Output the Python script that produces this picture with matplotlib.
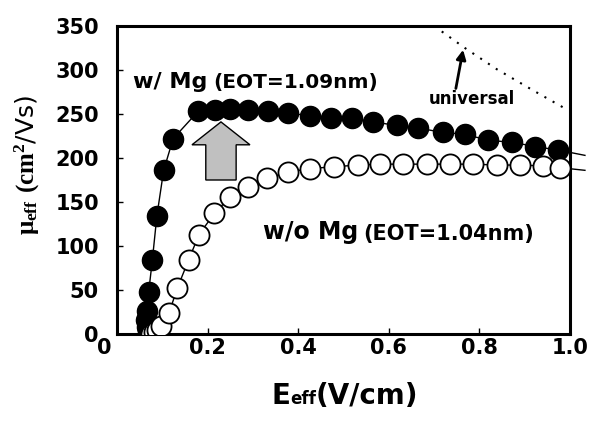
import numpy as np
import matplotlib
matplotlib.use("Agg")
import matplotlib.pyplot as plt
from matplotlib.offsetbox import TextArea, HPacker, AnnotationBbox
from matplotlib.transforms import ScaledTranslation

plt.rcParams["font.family"] = "DejaVu Sans"
plt.rcParams["font.weight"] = "bold"
plt.rcParams["mathtext.fontset"] = "custom"
plt.rcParams["mathtext.rm"] = "Liberation Serif:bold"
plt.rcParams["mathtext.it"] = "Liberation Serif:bold"
plt.rcParams["mathtext.bf"] = "Liberation Serif:bold"

# w/ Mg (filled circles)
e_mg = [0.072, 0.068, 0.066, 0.065, 0.066, 0.070, 0.078, 0.088, 0.103, 0.124,
        0.179, 0.216, 0.249, 0.290, 0.334, 0.378, 0.426, 0.472, 0.518, 0.566,
        0.617, 0.665, 0.720, 0.768, 0.820, 0.871, 0.923, 0.974]
mu_mg = [0, 3, 8, 16, 26, 48, 84, 134, 186, 222,
         253, 254, 256, 255, 253, 251, 248, 246, 245, 241,
         237, 234, 229, 227, 220, 218, 213, 209]

# w/o Mg (open circles)
e_nomg = [0.076, 0.082, 0.088, 0.097, 0.115, 0.133, 0.158, 0.181, 0.215, 0.250,
          0.289, 0.331, 0.378, 0.426, 0.478, 0.532, 0.581, 0.631, 0.684, 0.735,
          0.786, 0.839, 0.889, 0.940, 0.978]
mu_nomg = [0, 2, 4, 9, 24, 52, 84, 113, 137, 156,
           167, 177, 184, 188, 190, 192, 193, 193, 193, 193,
           193, 192, 192, 191, 189]

# curves continue just past the right edge of the frame
e_next = 1.033
mu_mg_next = 203
mu_nomg_next = 186

# universal mobility curve
e_univ = [0.700, 0.768, 0.838, 0.918, 0.990]
mu_univ = [350, 325, 301, 277, 256]

xticks = [0, 0.2, 0.4, 0.6, 0.8, 1.0]
xtick_labels = ["0", "0.2", "0.4", "0.6", "0.8", "1.0"]
yticks = [0, 50, 100, 150, 200, 250, 300, 350]

fig = plt.figure(figsize=(5.94, 4.21), dpi=100)
ax = fig.add_axes([117 / 594, 87 / 421, 453 / 594, 308 / 421])

# connecting lines (allowed to run past the frame on the right)
ax.plot(e_mg + [e_next], mu_mg + [mu_mg_next], color="black", lw=1.0,
        clip_on=False, zorder=2)
ax.plot(e_nomg + [e_next], mu_nomg + [mu_nomg_next], color="black", lw=1.0,
        clip_on=False, zorder=2)

ax.plot(e_mg, mu_mg, "o", ms=14.5, mfc="black", mec="black", mew=1.0, zorder=3)
ax.plot(e_nomg, mu_nomg, "o", ms=14.5, mfc="white", mec="black", mew=1.3, zorder=4)

ax.plot(e_univ, mu_univ, color="black", lw=1.5, ls=(0, (1, 3.5)), zorder=2)

# grey block arrow
ax.arrow(0.2295, 175, 0, 66, width=0.067, head_width=0.128, head_length=26,
         length_includes_head=True, fc="#c0c0c0", ec="black", lw=1.0, zorder=5)

ax.annotate("", xy=(0.764, 323), xytext=(0.748, 279),
            arrowprops=dict(arrowstyle="-|>", lw=2, color="black",
                            mutation_scale=14, shrinkA=0, shrinkB=0))

t1 = ax.text(0.035, 280, "w/ Mg", fontsize=16, va="baseline")
ax.annotate("(EOT=1.09nm)", xy=(1, 0), xycoords=t1, xytext=(4, 0),
            textcoords="offset points", fontsize=14.5, va="bottom")
ax.text(0.689, 261, "universal", fontsize=12, va="baseline")
t2 = ax.text(0.322, 108, "w/o Mg", fontsize=17, va="baseline")
ax.annotate("(EOT=1.04nm)", xy=(1, 0), xycoords=t2, xytext=(4, 0),
            textcoords="offset points", fontsize=15, va="bottom")

ax.set_xlim(0, 1.0)
ax.set_ylim(0, 350)
ax.set_xticks(xticks)
ax.set_xticklabels(xtick_labels)
ax.set_yticks(yticks)
ax.tick_params(direction="in", length=4, width=1, labelsize=15, top=False, right=False)
ax.tick_params(axis="y", pad=13)
ax.tick_params(axis="x", pad=3)
for sp in ax.spines.values():
    sp.set_linewidth(2.2)

# first x tick label sits left of the axis corner
lbl0 = ax.get_xticklabels()[0]
lbl0.set_transform(lbl0.get_transform() + ScaledTranslation(-13 / 100, 0, fig.dpi_scale_trans))

ax.set_ylabel(r"$\mu_{eff}$ $(\mathrm{cm}^2$/Vs)", fontsize=18)
ax.yaxis.set_label_coords(-0.166, 0.55)

# x label: "E" + small "eff" on the same baseline + "(V/cm)"
xl = HPacker(children=[TextArea("E", textprops=dict(fontsize=20, fontweight="bold")),
                       TextArea("eff", textprops=dict(fontsize=12, fontweight="bold")),
                       TextArea("(V/cm)", textprops=dict(fontsize=20, fontweight="bold"))],
             align="baseline", pad=0, sep=0)
ab = AnnotationBbox(xl, (0.503, -0.2), xycoords="axes fraction", frameon=False,
                    box_alignment=(0.5, 0.5), pad=0, annotation_clip=False)
ax.add_artist(ab)

fig.savefig("out.png", dpi=100)
